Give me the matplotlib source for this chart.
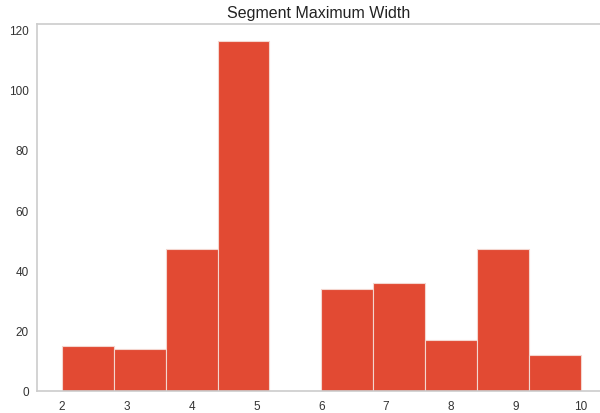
import numpy as np
from matplotlib import pyplot as plt

# histogram bin edges and counts
bin_edges = [2.0, 2.8, 3.6, 4.4, 5.2, 6.0, 6.8, 7.6, 8.4, 9.2, 10.0]
counts = [15, 14, 47, 116, 0, 34, 36, 17, 47, 12]
x_ticks = [2, 3, 4, 5, 6, 7, 8, 9, 10]
y_ticks = [0, 20, 40, 60, 80, 100, 120]

plt.rcParams['font.family'] = ['Liberation Sans', 'DejaVu Sans']

fig = plt.figure(figsize=(6, 4.14), dpi=100)
ax = fig.add_axes([37/600, 22/414, (600-37)/600, (392-25)/414])

centers = np.array(bin_edges[:-1])
ax.hist(centers, bins=bin_edges, weights=counts, color='#E24A33',
        edgecolor='#f4d6cf', linewidth=0.8)

ax.set_xlim(1.614, 10.3)
ax.set_ylim(0, 121.8)
ax.set_xticks(x_ticks)
ax.set_yticks(y_ticks)
ax.tick_params(axis='x', length=0, labelsize=8.5, colors='#333333', pad=6.5)
ax.tick_params(axis='y', length=0, labelsize=8.5, colors='#333333', pad=6)
for s in ax.spines.values():
    s.set_color('#cccccc')
    s.set_linewidth(1.2)
ax.spines['right'].set_visible(False)  # cut off in the reference
ax.set_title('Segment Maximum Width', fontsize=11.5, color='#222222', pad=5)

fig.savefig('out.png')
